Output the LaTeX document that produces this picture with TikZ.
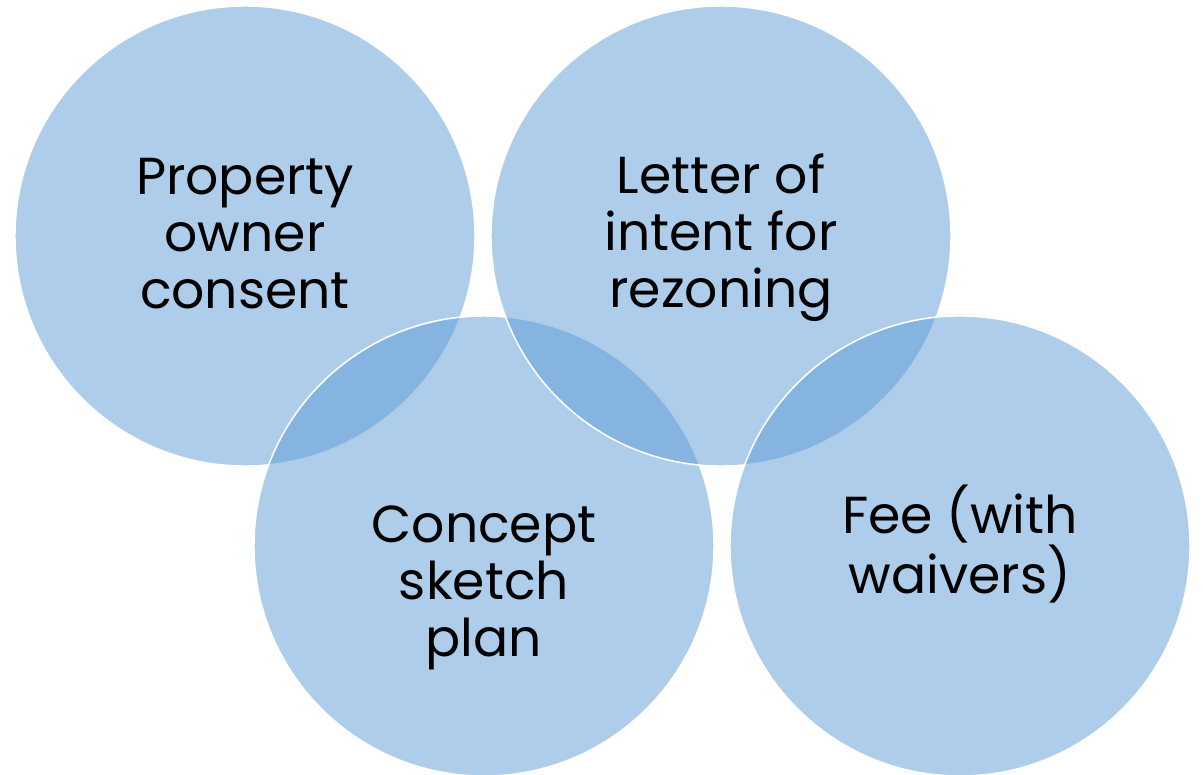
\documentclass[tikz,border=0pt]{standalone}
\usepackage{fontspec}
\setmainfont{Poppins}
\usepackage{tikz}
\definecolor{vennblue}{RGB}{91,155,213}

\tikzset{
  venn/.style={circle, minimum size=11.5cm, inner sep=0pt, fill=vennblue,
    fill opacity=0.5, draw=white, draw opacity=1, line width=1.1pt},
  vtext/.style={align=center, inner sep=0pt, text=black,
    font=\fontsize{37}{40.5}\selectfont}
}

\begin{document}
\begin{tikzpicture}[x=0.025cm, y=-0.025cm]
\useasboundingbox (0,0) rectangle (1203,775);
% circles, drawn in the order of the outlines
\node[venn] (c1) at (245,236) {};
\node[venn] (c3) at (484,546) {};
\node[venn] (c2) at (721,236) {};
\node[venn] (c4) at (960,546) {};
% texts
\node[vtext] (t1) at ([yshift=0.05cm]c1.center) {Property\\owner\\consent};
\node[vtext] (t2) at ([yshift=-0.05cm]c2.center) {Letter of\\intent for\\rezoning};
\node[vtext] (t3) at ([yshift=-1.05cm]c3.center) {Concept\\sketch\\plan};
\node[vtext] (t4) at ([yshift=0.05cm]c4.center) {Fee (with\\waivers)};
\end{tikzpicture}
\end{document}
